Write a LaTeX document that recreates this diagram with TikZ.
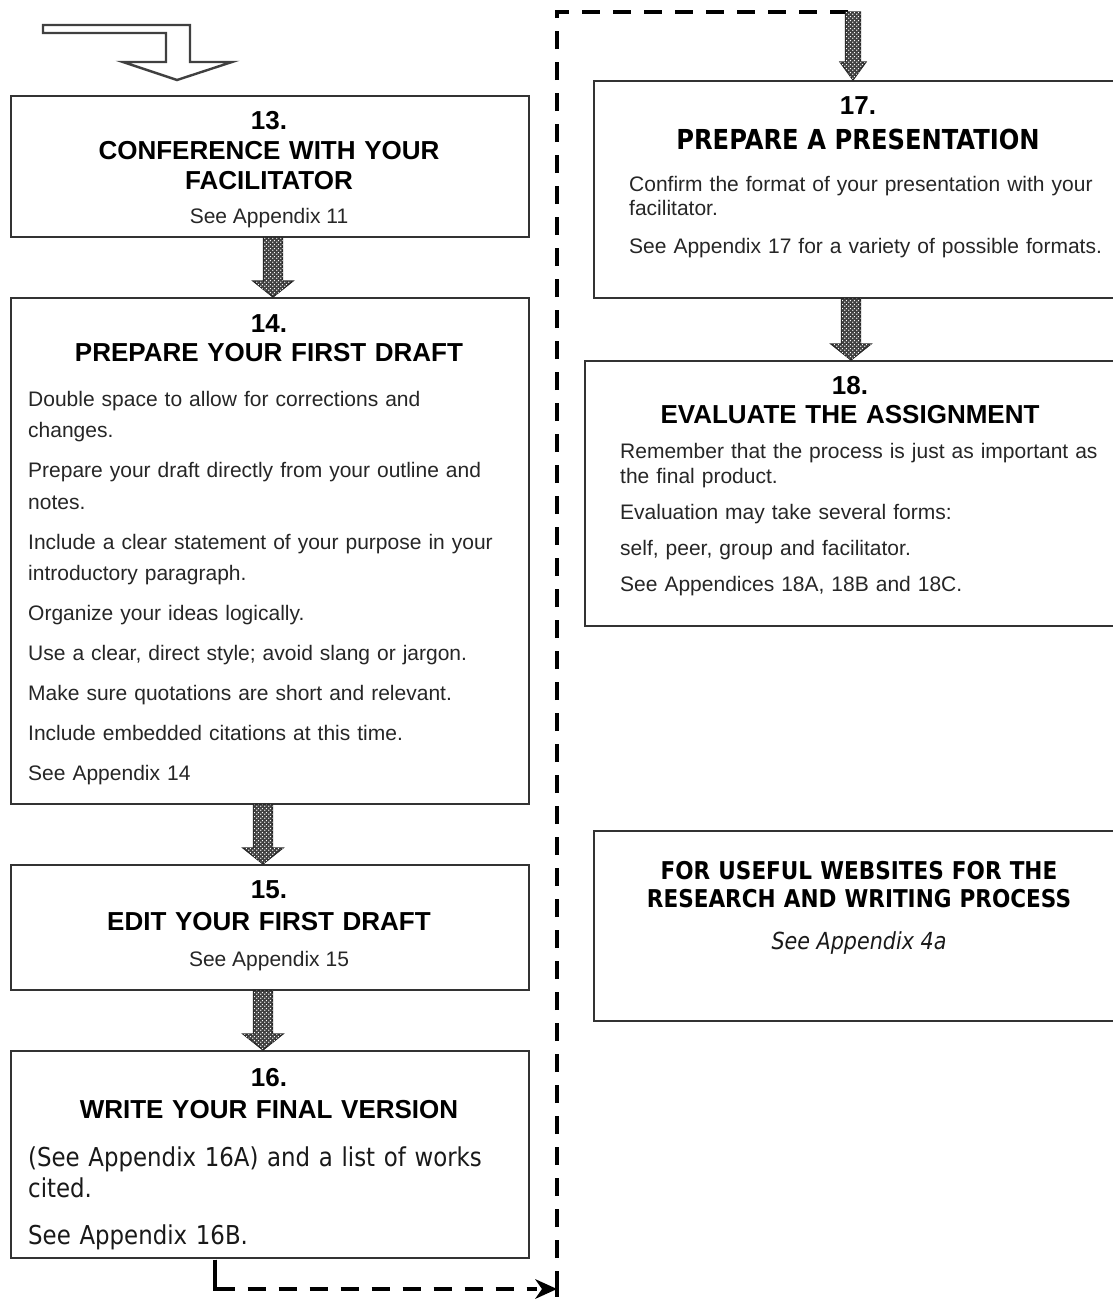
\documentclass[tikz,border=0pt]{standalone}
\usepackage{fontspec}
\setmainfont{Liberation Sans}
\newfontfamily\tahoma[FakeStretch=0.88]{DejaVu Sans}
\usetikzlibrary{calc,patterns.meta,arrows.meta}

% halftone fill for the block arrows
\tikzdeclarepattern{
  name=dotgrid, type=uncolored,
  bounding box={(0pt,0pt) and (4pt,4pt)},
  tile size={(4pt,4pt)},
  code={\fill (1pt,1pt) circle (0.85pt); \fill (3pt,3pt) circle (0.85pt);}
}

\tikzset{
  box/.style={draw=black!80, line width=1.5pt, fill=white, anchor=north west, inner sep=0pt},
  head/.style={anchor=base, align=center, text width=500pt, inner sep=0pt,
    font=\fontsize{26}{#1}\selectfont\bfseries},
  head/.default=30,
  body/.style={anchor=base west, align=left, text width=500pt, inner sep=0pt,
    text=black!85, font=\fontsize{21}{#1}\selectfont},
  body/.default=31.5,
  note/.style={anchor=base, inner sep=0pt, text=black!85, font=\fontsize{21}{25}\selectfont},
  barrow/.style={draw=black!85, line width=1.2pt, fill=black!75,
    postaction={pattern=dotgrid, pattern color=white}},
  loopline/.style={line width=4pt, dash pattern=on 18pt off 13pt},
}

% block arrow: x, from point, to point, shaft half width, head half width, head length
\newcommand\blockarrow[6]{%
  \path[barrow] let \p1=#2, \p2=#3 in
    (#1pt-#4pt,\y1) -- (#1pt+#4pt,\y1) -- (#1pt+#4pt,\y2+#6pt) -- (#1pt+#5pt,\y2+#6pt)
    -- (#1pt,\y2) -- (#1pt-#5pt,\y2+#6pt) -- (#1pt-#4pt,\y2+#6pt) -- cycle;}

\begin{document}
\begin{tikzpicture}[x=1pt,y=-1pt]
\useasboundingbox (0,0) rectangle (1113,1299);
\clip (0,0) rectangle (1113,1299);

% entry arrow
\draw[line width=2.4pt, draw=black!75, fill=white, line join=miter]
  (43,25) -- (190,25) -- (190,62) -- (232,62) -- (177,80) -- (123,62)
  -- (166,62) -- (166,33) -- (43,33) -- cycle;

% boxes
\node[box, minimum width=518pt, minimum height=141pt] (b13) at (10,95) {};
\node[box, minimum width=518pt, minimum height=506pt] (b14) at (10,297) {};
\node[box, minimum width=518pt, minimum height=125pt] (b15) at (10,864) {};
\node[box, minimum width=518pt, minimum height=207pt] (b16) at (10,1050) {};
\node[box, minimum width=535pt, minimum height=217pt] (b17) at (593,80) {};
\node[box, minimum width=545pt, minimum height=265pt] (b18) at (584,360) {};
\node[box, minimum width=535pt, minimum height=190pt] (bweb) at (593,830) {};

% box 13
\node[head] (h13) at (269,129) {13.\\CONFERENCE WITH YOUR\\FACILITATOR};
\node[note] (n13) at (269,223) {See Appendix 11};

% box 14
\node[head=29] (h14) at (269,332) {14.\\PREPARE YOUR FIRST DRAFT};
\node[body] (d14) at (28,406) {\setlength{\parskip}{8.5pt}%
Double space to allow for corrections and\\changes.\par
Prepare your draft directly from your outline and\\notes.\par
Include a clear statement of your purpose in your\\introductory paragraph.\par
Organize your ideas logically.\par
Use a clear, direct style; avoid slang or jargon.\par
Make sure quotations are short and relevant.\par
Include embedded citations at this time.\par
See Appendix 14};

% box 15
\node[head=32] (h15) at (269,898) {15.\\EDIT YOUR FIRST DRAFT};
\node[note] (n15) at (269,966) {See Appendix 15};

% box 16
\node[head=32] (h16) at (269,1086) {16.\\WRITE YOUR FINAL VERSION};
\node[body, text=black!90, font=\tahoma\fontsize{26}{31}\selectfont] (d16) at (28,1166) {\setlength{\parskip}{16pt}%
(See Appendix 16A) and a list of works\\cited.\par
See Appendix 16B.};

% box 17
\node[head=35] (h17) at (858,114) {17.\\{\tahoma\fontsize{27.5}{35}\selectfont PREPARE A PRESENTATION}};
\node[body=24] (d17) at (629,191) {\setlength{\parskip}{14pt}%
Confirm the format of your presentation with your\\facilitator.\par
See Appendix 17 for a variety of possible formats.};

% box 18
\node[head=29] (h18) at (850,394) {18.\\EVALUATE THE ASSIGNMENT};
\node[body=25] (d18) at (620,458) {\setlength{\parskip}{11pt}%
Remember that the process is just as important as\\the final product.\par
Evaluation may take several forms:\par
self, peer, group and facilitator.\par
See Appendices 18A, 18B and 18C.};

% websites box
\node[head=28, font=\tahoma\fontsize{24.5}{28}\selectfont\bfseries] (hweb) at (859,879)
  {FOR USEFUL WEBSITES FOR THE\\RESEARCH AND WRITING PROCESS};
\node[note, text=black!90, font=\tahoma\fontsize{23.5}{28}\selectfont\itshape] (nweb) at (859,949) {See Appendix 4a};

% block arrows between steps
\blockarrow{273}{(b13.south)}{(b14.north)}{9.5}{20}{16}
\blockarrow{263}{(b14.south)}{(b15.north)}{9.5}{20}{16}
\blockarrow{263}{(b15.south)}{(b16.north)}{9.5}{20}{16}
\blockarrow{851}{(b17.south)}{(b18.north)}{9.5}{20}{16}

% dashed link from step 16 to step 17
\coordinate (dstart) at ($(b16.south west)+(205,1)$);
\coordinate (dcorner) at (557,1289);
\coordinate (dtop) at (557,12);
\coordinate (a17top) at (853,12);
\draw[loopline] (dstart) |- ($(dcorner)+(-20,0)$);
% solid elbow where the link leaves step 16
\draw[line width=4pt, line join=miter] (dstart) |- ($(dstart |- dcorner)+(14,0)$);
% arrowhead where the link turns upward
\fill (dcorner) -- ++(-22,-10) -- ++(7,10) -- ++(-7,10) -- cycle;
\draw[line width=4pt] (dcorner) -- ++(0,8);
\draw[loopline] (dcorner) -- (dtop) -- (a17top);
\blockarrow{853}{(a17top)}{(b17.north)}{7.5}{13}{18}
\end{tikzpicture}
\end{document}
